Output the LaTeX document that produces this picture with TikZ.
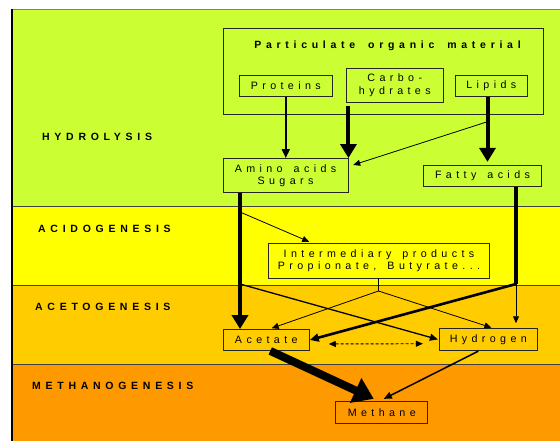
\documentclass[tikz,border=0pt]{standalone}
\usepackage{fontspec}
\setmainfont{Liberation Sans}
\newfontfamily\spacedfont[LetterSpace=41,WordSpace=1.5]{Liberation Sans}
\newfontfamily\phasefont[LetterSpace=45]{Liberation Sans}
\newfontfamily\titlefont[LetterSpace=45,WordSpace=1.3]{Liberation Sans}
\usetikzlibrary{arrows.meta}
\definecolor{hydgreen}{HTML}{CCFF33}
\definecolor{acidyellow}{HTML}{FFFF00}
\definecolor{acetorange}{HTML}{FFCC00}
\definecolor{methorange}{HTML}{FF9900}

\begin{document}
\begin{tikzpicture}[x=1pt,y=-1pt,
    stagebox/.style={draw=black!85,line width=0.9pt,inner sep=0pt,align=center,
      font=\spacedfont\fontsize{10.7}{12.5}\selectfont},
    phase/.style={anchor=west,inner sep=0pt,font=\phasefont\bfseries\fontsize{10.5}{12}\selectfont},
    thinflow/.style={-{Triangle[length=7pt,width=6pt]},line width=0.8pt},
    medflow/.style={-{Triangle[length=9pt,width=8pt]},line width=1.8pt},
    heavyflow/.style={-{Triangle[length=14pt,width=16pt]},line width=4pt}]
    \useasboundingbox (0,0) rectangle (560,441);
    \foreach \top/\bot/\col in {9/206/hydgreen,206/285/acidyellow,285/364/acetorange,364/441/methorange}
    	\fill[\col] (11,\top) rectangle (560,\bot);
    \foreach \y in {206,285,364}
    	\draw[black!75,line width=0.8pt] (11,\y) -- (560,\y);
    \draw[gray,line width=0.8pt] (11,9) -- (560,9);
    \draw[line width=2pt] (12,8.6) -- (12,441);
    \node (hydro) at (42,137) [phase] {HYDROLYSIS};
    \node (acido) at (38,229) [phase] {ACIDOGENESIS};
    \node (aceto) at (35,307) [phase] {ACETOGENESIS};
    \node (metha) at (32,386) [phase] {METHANOGENESIS};
    \node (pom) at (383.3,71.3) [stagebox,minimum width=320,minimum height=86] {};
    \node (pomtitle) at (387.5,46) [font=\titlefont\bfseries\fontsize{10.5}{12}\selectfont,inner sep=0pt] {Particulate organic material};
    \node (prot) at (285.8,85.7) [stagebox,minimum width=93,minimum height=21] {Proteins};
    \node (carb) at (394.8,85.2) [stagebox,minimum width=97,minimum height=34] {Carbo-\\hydrates};
    \node (lip) at (491.3,85.7) [stagebox,minimum width=72,minimum height=21] {Lipids};
    \node (amino) at (285.5,175.5) [stagebox,minimum width=125,minimum height=34] {Amino acids\\Sugars};
    \node (fatty) at (482.5,175.8) [stagebox,minimum width=118,minimum height=21] {Fatty acids};
    \node (inter) at (379,260.5) [stagebox,minimum width=221,minimum height=35] {Intermediary products\\Propionate, Butyrate...};
    \node (acet) at (266.3,340) [stagebox,minimum width=86,minimum height=21] {Acetate};
    \node (hyd) at (488.3,339.7) [stagebox,minimum width=98,minimum height=22] {Hydrogen};
    \node (meth) at (381.8,412.3) [stagebox,minimum width=92,minimum height=22] {Methane};
    \coordinate (lipsplit) at (487.5,121.7);
    \coordinate (amfork) at (240,212);
    \coordinate (amsplit) at (240,284);
    \coordinate (fasplit) at (516,284);
    \coordinate (infork) at (378.5,291);
    \draw[medflow] (prot.south) -- (prot.south |- amino.north);
    \draw[heavyflow,shorten <=3pt] (amino.north east |- carb.south) -- (amino.north east);
    \draw[heavyflow,shorten >=3pt] (lipsplit |- lip.south) -- (lipsplit |- fatty.north);
    \draw[thinflow,shorten >=5pt] (lipsplit) -- ([yshift=9pt]amino.east);
    \draw[heavyflow] (amsplit |- amino.south) -- (amsplit |- acet.north);
    \draw[thinflow,shorten >=2pt] (amfork) -- ([xshift=43pt]inter.north west);
    \draw[-{Triangle[length=8pt,width=7pt]},line width=1.3pt,shorten >=1pt] (amsplit) -- (hyd.west);
    \draw[line width=4pt] (fasplit |- fatty.south) -- (fasplit);
    \draw[-{Triangle[length=9pt,width=8pt]},line width=2.6pt] (fasplit) -- (acet.east);
    \draw[thinflow,shorten >=5pt] (fasplit) -- (fasplit |- hyd.north);
    \draw[line width=0.8pt] (inter.south -| infork) -- (infork);
    \draw[thinflow,shorten >=2.5pt] (infork) -- ([xshift=3pt]acet.north);
    \draw[thinflow,shorten >=2pt] (infork) -- ([xshift=5pt]hyd.north);
    \draw[{Triangle[length=7pt,width=6pt]}-{Triangle[length=7pt,width=6pt]},line width=0.9pt,dash pattern=on 3pt off 2pt,shorten <=19pt,shorten >=16pt] ([yshift=-4pt]acet.east) -- ([yshift=-4pt]hyd.west);
    \draw[-{Triangle[length=20pt,width=26pt]},line width=8pt] ([xshift=4pt]acet.south) -- ([xshift=-8pt,yshift=2pt]meth.north);
    \draw[-{Triangle[length=8pt,width=7pt]},line width=1.5pt] ([xshift=-10pt]hyd.south) -- ([xshift=2pt,yshift=2pt]meth.north);
\end{tikzpicture}
\end{document}
